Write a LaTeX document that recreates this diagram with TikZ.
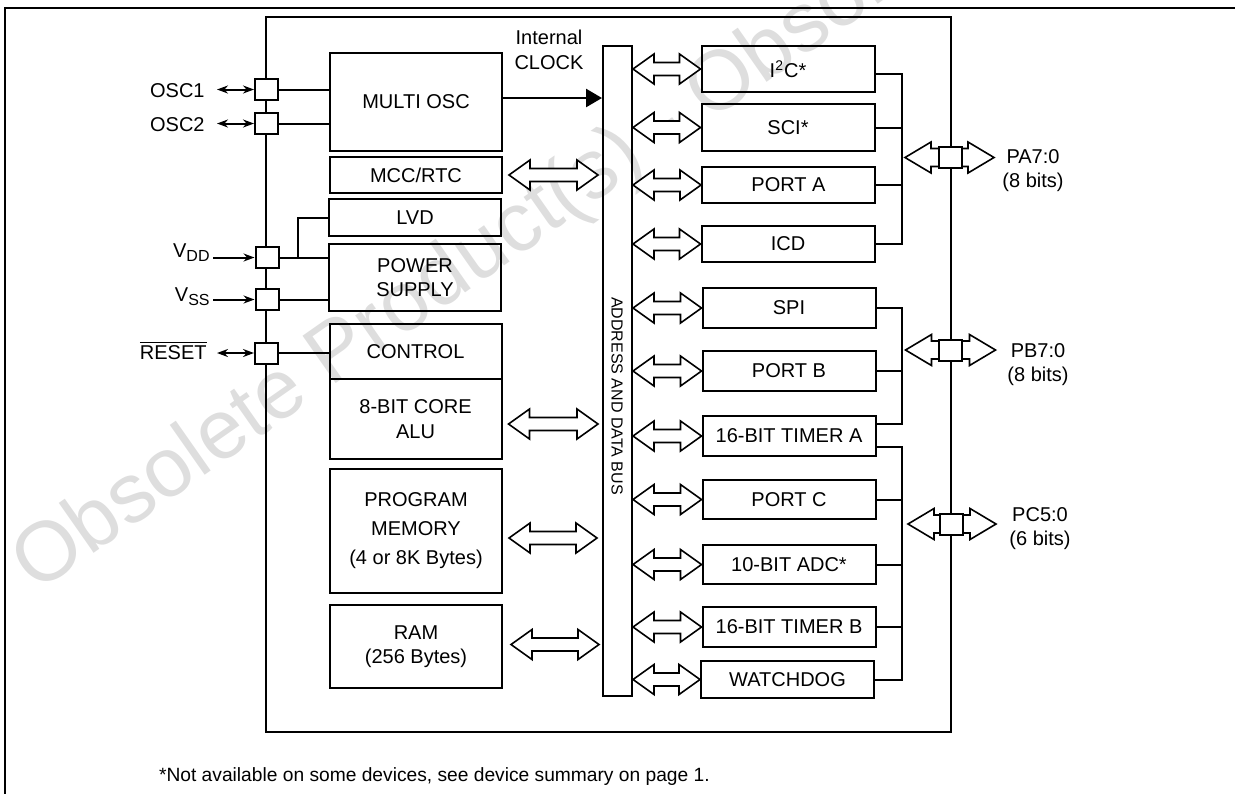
\documentclass[tikz,border=0pt]{standalone}
\usepackage{fontspec}
\setmainfont{Liberation Sans}
\usepackage{tikz}
\usetikzlibrary{arrows.meta,calc}
% hollow double arrow: left end, right end, head length, head half width, shaft half width
\newcommand{\dblarrow}[5]{%
  \draw[hollow] let \p1=(#1), \p2=(#2) in
    (\x1,\y1) -- (\x1+#3,\y1+#4) -- (\x1+#3,\y1+#5) -- (\x2-#3,\y1+#5) -- (\x2-#3,\y1+#4)
    -- (\x2,\y1) -- (\x2-#3,\y1-#4) -- (\x2-#3,\y1-#5) -- (\x1+#3,\y1-#5) -- (\x1+#3,\y1-#4) -- cycle;}
\newcommand{\busarrow}[2]{\dblarrow{#1}{#2}{10.5pt}{7.5pt}{3.25pt}}
\newcommand{\portarrow}[2]{\dblarrow{#1}{#2}{13pt}{7.75pt}{4.5pt}}
\tikzset{
  blk/.style={draw,line width=1pt,inner sep=0pt,align=center,minimum width=86pt},
  rblk/.style={blk,minimum width=86.5pt},
  pad/.style={draw,fill=white,line width=1pt,inner sep=0pt,minimum width=11.5pt,minimum height=10.5pt},
  wire/.style={line width=1pt},
  hollow/.style={fill=white,draw,line width=0.8pt,line join=miter},
  biwire/.style={line width=1pt,{Stealth[length=5.5pt,width=4pt]}-{Stealth[length=5.5pt,width=4pt]}},
  inwire/.style={line width=1pt,-{Stealth[length=5.5pt,width=4pt]}},
  clk/.style={line width=1.3pt,-{Triangle[length=8pt,width=9pt]}},
  lbl/.style={anchor=base east,inner sep=0pt},
  wmark/.style={text=black!13,font=\fontsize{42}{42}\selectfont,inner sep=0pt},
}

\begin{document}
\begin{tikzpicture}[x=0.5pt,y=-0.5pt]
    \useasboundingbox (0,0) rectangle (1235,794);
    % watermark
    \node[wmark,rotate=35,anchor=base west] (wm) at (36,594) {Obsolete Product(s) - Obsolete Product(s)};
    % frame and chip
    \draw[line width=0.7pt] (1235,8) -- (5,8) -- (5,794);
    \draw[line width=1.1pt] (266,17) rectangle (951,732);

    % left column
    \node[blk,minimum height=49pt] (mosc) at (416,102) {MULTI OSC};
    \node[blk,minimum height=18pt] (mcc) at (416,175) {MCC/RTC};
    \node[blk,minimum height=18.5pt] (lvd) at (415,217.5) {LVD};
    \node[blk,minimum height=33.5pt] (psu) at (415,277.5) {POWER\\SUPPLY};
    \node[blk,minimum height=27.5pt] (ctrl) at (415.5,351.5) {CONTROL};
    \node[blk,minimum height=40pt] (alu) at (415.5,419) {8-BIT CORE\\[0.5pt]ALU};
    \node[blk,minimum height=62pt] (pmem) at (416,531) {PROGRAM\\[2.5pt]MEMORY\\[2.5pt](4 or 8K Bytes)};
    \node[blk,minimum height=41.5pt] (ram) at (416,646.5) {RAM\\(256 Bytes)};

    % bus
    \node[draw,line width=1pt,inner sep=0pt,minimum width=14.5pt,minimum height=325pt] (bus) at (617.5,371) {};
    \node[rotate=-90,font=\footnotesize] (buslbl) at (617,396) {ADDRESS AND DATA BUS};
    \node[align=center] (clklbl) at (549,50) {Internal\\[0.5pt]CLOCK};
    \draw[clk] ($(mosc.east)+(0,-4)$) -- ($(mosc.east -| bus.west)+(0,-4)$);

    % right column
    \node[rblk,minimum height=23pt] (i2c) at (788,69) {I\textsuperscript{2}C*};
    \node[rblk,minimum height=23.5pt] (sci) at (788,127.5) {SCI*};
    \node[rblk,minimum height=18pt] (porta) at (788.5,185) {PORT A};
    \node[rblk,minimum height=18pt] (icd) at (788,244) {ICD};
    \node[rblk,minimum height=20pt] (spi) at (789,308) {SPI};
    \node[rblk,minimum height=20pt] (portb) at (789,371) {PORT B};
    \node[rblk,minimum height=20pt] (tima) at (789,436) {16-BIT TIMER A};
    \node[rblk,minimum height=19.5pt] (portc) at (789,499.5) {PORT C};
    \node[rblk,minimum height=19.5pt] (adc) at (789,564.5) {10-BIT ADC*};
    \node[rblk,minimum height=20pt] (timb) at (789,627) {16-BIT TIMER B};
    \node[rblk,minimum height=18.5pt] (wdog) at (787.5,679.5) {WATCHDOG};

    % bus arrows, left side
    \busarrow{$(mcc.east)+(6,0)$}{$(mcc.east -| bus.west)+(-4,0)$}
    \busarrow{$(alu.east)+(6,5)$}{$(alu.east -| bus.west)+(-4,5)$}
    \busarrow{$(pmem.east)+(6,7)$}{$(pmem.east -| bus.west)+(-5,7)$}
    \busarrow{$(ram.east)+(8,-2)$}{$(ram.east -| bus.west)+(-3,-2)$}
    % bus arrows, right side
    \busarrow{bus.east |- i2c.west}{i2c.west}
    \busarrow{bus.east |- sci.west}{sci.west}
    \busarrow{bus.east |- porta.west}{porta.west}
    \busarrow{bus.east |- icd.west}{icd.west}
    \busarrow{bus.east |- spi.west}{spi.west}
    \busarrow{bus.east |- portb.west}{portb.west}
    \busarrow{bus.east |- tima.west}{tima.west}
    \busarrow{bus.east |- portc.west}{portc.west}
    \busarrow{bus.east |- adc.west}{adc.west}
    \busarrow{bus.east |- timb.west}{timb.west}
    \busarrow{bus.east |- wdog.west}{wdog.west}

    % port groups
    \coordinate (gx) at (902,0);
    \draw[wire] ($(i2c.east)+(0,5)$) -| (gx |- icd.east) -- (icd.east);
    \draw[wire] (sci.east) -- (sci.east -| gx);
    \draw[wire] (porta.east) -- (porta.east -| gx);
    \coordinate (ta1) at ($(tima.east)+(0,-12)$);
    \coordinate (ta2) at ($(tima.east)+(0,11)$);
    \draw[wire] (spi.east) -| (gx |- ta1) -- (ta1);
    \draw[wire] (portb.east) -- (portb.east -| gx);
    \draw[wire] (ta2) -| (gx |- wdog.east) -- (wdog.east);
    \draw[wire] (portc.east) -- (portc.east -| gx);
    \draw[wire] (adc.east) -- (adc.east -| gx);
    \draw[wire] (timb.east) -- (timb.east -| gx);

    \coordinate (pa) at (950,157.5);
    \coordinate (pb) at (950.5,350);
    \coordinate (pc) at (951,524);
    \portarrow{$(pa)+(-45,0)$}{$(pa)+(44,0)$}
    \portarrow{$(pb)+(-45,0)$}{$(pb)+(45,0)$}
    \portarrow{$(pc)+(-43,0)$}{$(pc)+(45,0)$}
    \node[pad] (ppa) at (pa) {};
    \node[pad] (ppb) at (pb) {};
    \node[pad] (ppc) at (pc) {};
    \node[align=center] (tpa) at (1033,171) {PA7:0\\(8 bits)};
    \node[align=center] (tpb) at (1038,365) {PB7:0\\(8 bits)};
    \node[align=center] (tpc) at (1040,529) {PC5:0\\(6 bits)};

    % pins on the left
    \node[pad] (posc1) at (266.5,89.5) {};
    \node[pad] (posc2) at (266.5,123.5) {};
    \node[pad] (pvdd) at (267,257.5) {};
    \node[pad] (pvss) at (267,299.5) {};
    \node[pad] (prst) at (266.5,353) {};
    \node[lbl] (tosc1) at (205,97) {OSC1};
    \node[lbl] (tosc2) at (205,131) {OSC2};
    \node[lbl] (tvdd) at (210,257) {V\raisebox{-0.4ex}{\footnotesize DD}};
    \node[lbl] (tvss) at (210,301) {V\raisebox{-0.4ex}{\footnotesize SS}};
    \node[lbl] (trst) at (207,359) {$\overline{\mbox{RESET}}$};
    \draw[biwire] ($(tosc1.east |- posc1.west)+(12,0)$) -- (posc1.west);
    \draw[biwire] ($(tosc2.east |- posc2.west)+(12,0)$) -- (posc2.west);
    \draw[inwire] ($(tvdd.east |- pvdd.west)+(3,0)$) -- (pvdd.west);
    \draw[inwire] ($(tvss.east |- pvss.west)+(3,0)$) -- (pvss.west);
    \draw[biwire] ($(trst.east |- prst.west)+(10,0)$) -- (prst.west);
    \draw[wire] (posc1.east) -- (posc1.east -| mosc.west);
    \draw[wire] (posc2.east) -- (posc2.east -| mosc.west);
    \draw[wire] (pvdd.east) -- (pvdd.east -| psu.west);
    \draw[wire] ($(pvdd.east)+(18,0)$) |- (lvd.west);
    \draw[wire] (pvss.east) -- (pvss.east -| psu.west);
    \draw[wire] (prst.east) -- (prst.east -| ctrl.west);

    \node[anchor=base west,font=\fontsize{9.6}{12}\selectfont] (note) at (152,781) {*Not available on some devices, see device summary on page 1.};
\end{tikzpicture}
\end{document}
